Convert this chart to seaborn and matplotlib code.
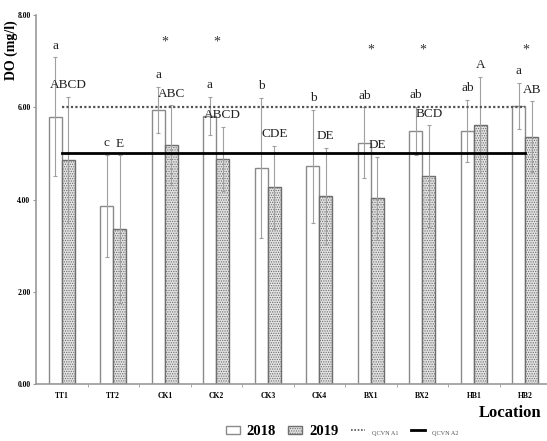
import matplotlib
matplotlib.use('Agg')
import matplotlib.pyplot as plt
import pandas as pd
import seaborn as sns
from matplotlib.patches import Patch
from matplotlib.lines import Line2D

# data
locations = ['TT1', 'TT2', 'CK1', 'CK2', 'CK3', 'CK4', 'BX1', 'BX2', 'HB1', 'HB2']
do_2018 = [5.79, 3.86, 5.94, 5.81, 4.69, 4.72, 5.23, 5.49, 5.49, 6.03]
sd_2018 = [1.29, 1.11, 0.50, 0.42, 1.52, 1.23, 0.77, 0.52, 0.67, 0.50]
do_2019 = [4.86, 3.36, 5.18, 4.88, 4.27, 4.08, 4.03, 4.51, 5.62, 5.36]
sd_2019 = [1.37, 1.60, 0.86, 0.70, 0.90, 1.04, 0.90, 1.10, 1.04, 0.77]
letters_2018 = ['a', 'c', 'a', 'a', 'b', 'b', 'ab', 'ab', 'ab', 'a']
letters_2019 = ['ABCD', 'E', 'ABC', 'ABCD', 'CDE', 'DE', 'DE', 'BCD', 'A', 'AB']
star_locs = ['CK1', 'CK2', 'BX1', 'BX2', 'HB2']
star_y = [7.42, 7.42, 7.24, 7.24, 7.24]
qcvn_a1 = 6.0
qcvn_a2 = 5.0

df = pd.DataFrame({
    'Location': locations * 2,
    'DO': do_2018 + do_2019,
    'SD': sd_2018 + sd_2019,
    'Year': ['2018'] * len(locations) + ['2019'] * len(locations),
})

plt.rcParams['hatch.color'] = '#9a9a9a'
plt.rcParams['hatch.linewidth'] = 0.6
serif = ['Liberation Serif', 'DejaVu Serif']

fig = plt.figure(figsize=(5.47, 4.41), dpi=100)
ax = fig.add_axes([0.066, 0.129, 0.934, 0.837])

sns.barplot(data=df, x='Location', y='DO', hue='Year', order=locations,
            hue_order=['2018', '2019'], width=0.5, errorbar=None,
            palette=['white', '#e2e2e2'], legend=False, ax=ax)

n = len(locations)
bars_2018 = ax.patches[:n]
bars_2019 = ax.patches[n:2 * n]
for b in bars_2018:
    b.set_edgecolor('#8a8a8a')
    b.set_linewidth(1.0)
for b in bars_2019:
    b.set_edgecolor('#6e6e6e')
    b.set_linewidth(1.0)
    b.set_hatch('.......')

for bars, vals, sds, labs in [(bars_2018, do_2018, sd_2018, letters_2018),
                              (bars_2019, do_2019, sd_2019, letters_2019)]:
    xs = [b.get_x() + b.get_width() / 2 for b in bars]
    ax.errorbar(xs, vals, yerr=sds, fmt='none', ecolor='#a0a0a0',
                elinewidth=0.8, capsize=1.5, capthick=0.8, zorder=3)
    for x, v, s, t in zip(xs, vals, sds, labs):
        ax.text(x, v + s + 0.12, t, ha='center', va='bottom',
                fontsize=9.5, family=serif, color='#222222')

for loc, y in zip(star_locs, star_y):
    ax.text(locations.index(loc), y, '*', ha='center', va='center',
            fontsize=10, family=serif, color='#333333')

# QCVN reference lines
ax.plot([0, n - 1], [qcvn_a1, qcvn_a1], color='#555555', ls=(0, (1, 1)),
        lw=1.6, zorder=4)
ax.plot([0, n - 1], [qcvn_a2, qcvn_a2], color='black', lw=2.0, zorder=4)

ax.set_xlim(-0.5, 9.42)
ax.set_ylim(0, 8)
ax.set_yticks([0, 2, 4, 6, 8])
ax.set_yticklabels(['0.00', '2.00', '4.00', '6.00', '8.00'])
ax.set_xticks([i + 0.5 for i in range(n - 1)], minor=True)
ax.tick_params(axis='x', which='major', length=0, pad=6)
ax.tick_params(axis='x', which='minor', length=2, color='#999999')
ax.tick_params(axis='y', length=2, color='#999999', pad=2)
for lab in ax.get_xticklabels() + ax.get_yticklabels():
    lab.set_family(serif)
    lab.set_fontweight('bold')
for lab in ax.get_xticklabels():
    lab.set_fontsize(5.5)
for lab in ax.get_yticklabels():
    lab.set_fontsize(5.5)

for s in ['top', 'right']:
    ax.spines[s].set_visible(False)
for s in ['left', 'bottom']:
    ax.spines[s].set_color('#999999')
    ax.spines[s].set_linewidth(1.2)

ax.set_xlabel('')
ax.set_ylabel('DO (mg/l)', family=serif, fontweight='bold', fontsize=10)
ax.yaxis.set_label_coords(-0.035, 0.905)
fig.text(0.99, 0.063, 'Location', ha='right', va='center', family=serif,
         fontweight='bold', fontsize=12)

handles = [Patch(facecolor='white', edgecolor='#8a8a8a'),
           Patch(facecolor='#e2e2e2', edgecolor='#6e6e6e', hatch='.......'),
           Line2D([], [], color='#555555', ls=(0, (1, 1)), lw=1.2),
           Line2D([], [], color='black', lw=2)]
leg = fig.legend(handles, ['2018', '2019', 'QCVN A1', 'QCVN A2'], ncol=4,
                 loc='center', bbox_to_anchor=(0.625, 0.022), frameon=False,
                 handlelength=1.0, handleheight=0.5, handletextpad=0.5,
                 columnspacing=0.9)
for i, t in enumerate(leg.get_texts()):
    t.set_family(serif)
    if i < 2:
        t.set_fontsize(10.5)
        t.set_fontweight('bold')
    else:
        t.set_fontsize(4.5)
        t.set_color('#555555')

fig.savefig('out.png', dpi=100)
